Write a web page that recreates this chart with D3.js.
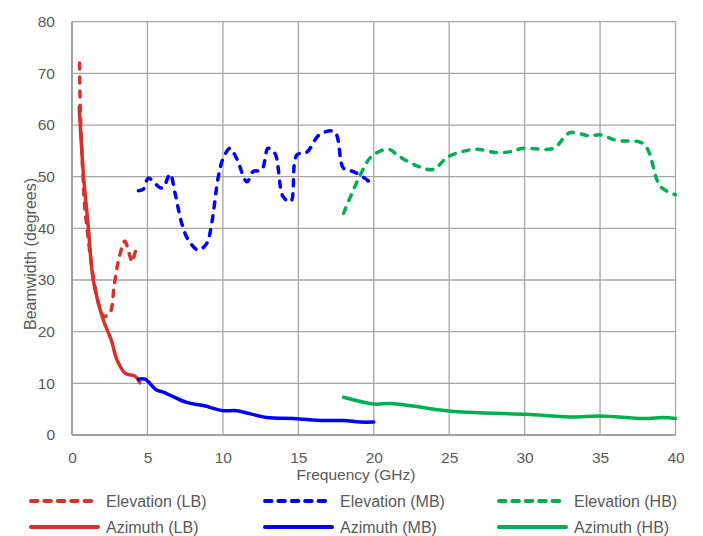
<!DOCTYPE html>
<html>
<head>
<meta charset="utf-8">
<script src="https://cdn.jsdelivr.net/npm/d3@7"></script>
<style>
body { margin: 0; background: #fff; }
svg { font-family: "Liberation Sans", "Open Sans", sans-serif; }
</style>
</head>
<body>
<svg id="chart" width="703" height="536"></svg>
<script>
// data: [GHz, degrees]
var elevLB = [[0.5,72],[0.55,63],[0.7,52],[0.85,44],[1.0,40],[1.2,35],[1.5,29],[1.8,25],[2.1,23],[2.5,23.5],
  [2.8,29],[3.1,34],[3.5,37.5],[3.8,35],[4.0,33.5],[4.2,35.5],[4.5,36.8]];
var azimLB = [[0.48,63.5],[0.75,50.7],[1.08,40.3],[1.41,30],[2.07,22.3],[2.6,18.4],[3.0,14.4],[3.55,11.9],
  [4.17,11.4],[4.5,10.1]];
var elevMB = [[4.4,47.3],[4.73,47.6],[5.06,49.7],[5.83,47.9],[6.05,47.9],[6.5,50.5],[6.83,46.8],[7.27,41],
  [7.7,37.8],[8.37,35.8],[8.93,37.1],[9.26,41],[9.7,50],[10.03,53.6],[10.47,55.5],[10.9,53.6],[11.6,49],
  [12.0,51],[12.57,51.3],[13.0,55.5],[13.45,54.5],[14.0,46.1],[14.5,45.2],[14.9,54.2],[15.55,54.7],
  [16.4,58.1],[17.4,58.7],[18.0,51.6],[18.65,51],[19.1,50.3],[20,48.4]];
var azimMB = [[4.4,10.8],[4.84,10.8],[5.6,8.7],[6.05,8.3],[7.6,6.3],[8.7,5.7],[10.03,4.7],[10.9,4.7],
  [12.9,3.4],[14.7,3.2],[16.65,2.8],[18,2.8],[19.1,2.5],[20,2.5]];
var elevHB = [[18,42.9],[19.1,50.3],[19.85,53.9],[20.96,55.3],[21.7,53.9],[22.95,52],[23.95,51.4],[24.95,53.9],
  [26.8,55.3],[28.0,54.7],[29.0,54.8],[29.9,55.5],[31.9,55.5],[33.0,58.5],[34.3,57.9],[35,58.1],[36.1,57],
  [37.9,56.3],[39,48.1],[40,46.5]];
var azimHB = [[18,7.3],[20,6.0],[21.1,6.1],[22.6,5.6],[24.8,4.7],[27.0,4.3],[30.1,4.0],[33.0,3.5],[35,3.7],
  [37.9,3.2],[39.2,3.4],[40,3.2]];

var xTicks = [0,5,10,15,20,25,30,35,40];
var yTicks = [0,10,20,30,40,50,60,70,80];

var series = [
  {name: "Elevation (LB)", data: elevLB, color: "#d9302a", dashed: true},
  {name: "Elevation (MB)", data: elevMB, color: "#0000ff", dashed: true},
  {name: "Elevation (HB)", data: elevHB, color: "#00b050", dashed: true},
  {name: "Azimuth (LB)", data: azimLB, color: "#d9302a", dashed: false},
  {name: "Azimuth (MB)", data: azimMB, color: "#0000ff", dashed: false},
  {name: "Azimuth (HB)", data: azimHB, color: "#00b050", dashed: false}
];

var svg = d3.select("#chart");
var x = d3.scaleLinear().domain([0, 40]).range([72, 675.5]);
var y = d3.scaleLinear().domain([0, 80]).range([435, 21.7]);

var grid = svg.append("g");
grid.selectAll(".vg").data(xTicks).enter().append("line")
  .attr("x1", function(d) { return x(d); }).attr("x2", function(d) { return x(d); })
  .attr("y1", y(0)).attr("y2", y(80))
  .attr("stroke", "#a6a6a6").attr("stroke-width", 1.3);
grid.selectAll(".hg").data(yTicks).enter().append("line")
  .attr("x1", x(0)).attr("x2", x(40))
  .attr("y1", function(d) { return y(d); }).attr("y2", function(d) { return y(d); })
  .attr("stroke", "#a6a6a6").attr("stroke-width", 1.3);
// axis lines
svg.append("line").attr("x1", x(0)).attr("x2", x(0)).attr("y1", y(0)).attr("y2", y(80))
  .attr("stroke", "#a0a0a0").attr("stroke-width", 2);
svg.append("line").attr("x1", x(0)).attr("x2", x(40)).attr("y1", y(0)).attr("y2", y(0))
  .attr("stroke", "#a0a0a0").attr("stroke-width", 2);

// tick labels through d3 axes, domain and ticks hidden
var xAxis = svg.append("g").attr("transform", "translate(0," + y(0) + ")")
  .call(d3.axisBottom(x).tickValues(xTicks).tickSize(0).tickPadding(17));
var yAxis = svg.append("g").attr("transform", "translate(" + x(0) + ",0)")
  .call(d3.axisLeft(y).tickValues(yTicks).tickSize(0).tickPadding(17));
[xAxis, yAxis].forEach(function(a) {
  a.select(".domain").remove();
  a.selectAll("text").attr("fill", "#595959").style("font-size", "15.5px")
    .style("font-family", "'Liberation Sans', sans-serif");
});

svg.append("text").attr("x", 356).attr("y", 480).attr("text-anchor", "middle")
  .attr("fill", "#595959").style("font-size", "15.5px").text("Frequency (GHz)");
svg.append("text").attr("transform", "translate(36,254) rotate(-90)").attr("text-anchor", "middle")
  .attr("fill", "#595959").style("font-size", "16px").text("Beamwidth (degrees)");

var line = d3.line()
  .x(function(d) { return x(d[0]); })
  .y(function(d) { return y(d[1]); })
  .curve(d3.curveCatmullRom.alpha(0.5));

svg.append("g").selectAll("path").data(series).enter().append("path")
  .attr("d", function(s) { return line(s.data); })
  .attr("fill", "none")
  .attr("stroke", function(s) { return s.color; })
  .attr("stroke-width", 3.5)
  .attr("stroke-linecap", "round")
  .attr("stroke-linejoin", "round")
  .attr("stroke-dasharray", function(s) { return s.dashed ? "6,8" : null; });

// legend: 3 columns x 2 rows
var legend = svg.append("g");
var item = legend.selectAll("g").data(series).enter().append("g")
  .attr("transform", function(s, i) {
    return "translate(" + (31 + (i % 3) * 234) + "," + (501 + Math.floor(i / 3) * 26) + ")";
  });
item.append("line").attr("x1", 0).attr("x2", 67).attr("y1", 0).attr("y2", 0)
  .attr("stroke", function(s) { return s.color; }).attr("stroke-width", 4)
  .attr("stroke-linecap", "round")
  .attr("stroke-dasharray", function(s) { return s.dashed ? "6.5,6.9" : null; });
item.append("text").attr("x", 75).attr("y", 6).attr("fill", "#595959")
  .style("font-size", "16px").text(function(s) { return s.name; });
</script>
</body>
</html>
